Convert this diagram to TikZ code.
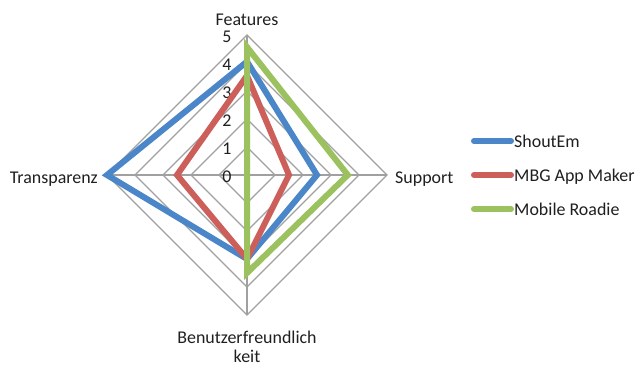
\documentclass[tikz,border=0pt]{standalone}
\usepackage{fontspec}
\setmainfont{Carlito}
\definecolor{sBlue}{HTML}{4A86C8}
\definecolor{sRed}{HTML}{CD5F5B}
\definecolor{sGreen}{HTML}{9BC25E}
\definecolor{gridgray}{HTML}{A0A0A0}
\begin{document}
\begin{tikzpicture}[x=1bp,y=-1bp,
  lbl/.style={font=\fontsize{18}{19}\selectfont, inner sep=0pt, text=black!88},
  gridline/.style={draw=gridgray, line width=1.2bp},
  series/.style={line width=6bp, line join=miter},
  legline/.style={line width=6bp, line cap=round}]
\useasboundingbox (0,0) rectangle (635,365);
\def\cx{247}\def\cy{175}\def\u{28}
% grid
\foreach \r in {1,...,5}{
  \draw[gridline] (\cx,\cy-\u*\r) -- (\cx+\u*\r,\cy) -- (\cx,\cy+\u*\r) -- (\cx-\u*\r,\cy) -- cycle;
}
\coordinate (top) at (\cx,\cy-5*\u);
\coordinate (right) at (\cx+5*\u,\cy);
\coordinate (bottom) at (\cx,\cy+5*\u);
\coordinate (left) at (\cx-5*\u,\cy);
\coordinate (ctr) at (\cx,\cy);
\draw[gridline] (ctr) -- (top);
\draw[gridline] (ctr) -- (right);
\draw[gridline] (ctr) -- (bottom);
\draw[gridline] (ctr) -- (left);
% tick labels
\foreach \v in {0,...,5}{
  \node[lbl, anchor=base] (t\v) at (227,\cy-\u*\v+7) {\v};
}
% axis labels
\node[lbl, anchor=base] (features) at (247,25) {Features};
\node[lbl, anchor=base west] (support) at (395,183) {Support};
\node[lbl, anchor=base east] (transp) at (98,183) {Transparenz};
\node[lbl, anchor=base] (benutz1) at (247,343) {Benutzerfreundlich};
\node[lbl, anchor=base] (benutz2) at (247,362) {keit};
% series: ShoutEm
\coordinate (a1) at (\cx,\cy-4.05*\u);
\coordinate (a2) at (\cx+2.5*\u,\cy);
\coordinate (a3) at (\cx,\cy+3*\u);
\coordinate (a4) at (\cx-5*\u,\cy);
\draw[series, sBlue] (a1) -- (a2) -- (a3) -- (a4) -- cycle;
% MBG App Maker
\coordinate (b1) at (\cx,\cy-3.55*\u);
\coordinate (b2) at (\cx+1.5*\u,\cy);
\coordinate (b3) at (\cx,\cy+3*\u);
\coordinate (b4) at (\cx-2.5*\u,\cy);
\draw[series, sRed] (b1) -- (b2) -- (b3) -- (b4) -- cycle;
% Mobile Roadie
\coordinate (c1) at (\cx,\cy-4.57*\u);
\coordinate (c2) at (\cx+3.6*\u,\cy);
\coordinate (c3) at (\cx,\cy+3.5*\u);
\coordinate (c4) at (\cx,\cy);
\draw[series, sGreen] (c1) -- (c2) -- (c3) -- (c4) -- cycle;
% legend
\coordinate (l1a) at (474,141); \coordinate (l1b) at (511,141);
\coordinate (l2a) at (474,175); \coordinate (l2b) at (511,175);
\coordinate (l3a) at (474,209); \coordinate (l3b) at (511,209);
\draw[legline, sBlue] (l1a) -- (l1b);
\draw[legline, sRed] (l2a) -- (l2b);
\draw[legline, sGreen] (l3a) -- (l3b);
\node[lbl, anchor=base west] (lt1) at (514,147) {ShoutEm};
\node[lbl, anchor=base west] (lt2) at (514,181) {MBG App Maker};
\node[lbl, anchor=base west] (lt3) at (514,215) {Mobile Roadie};
\end{tikzpicture}
\end{document}
